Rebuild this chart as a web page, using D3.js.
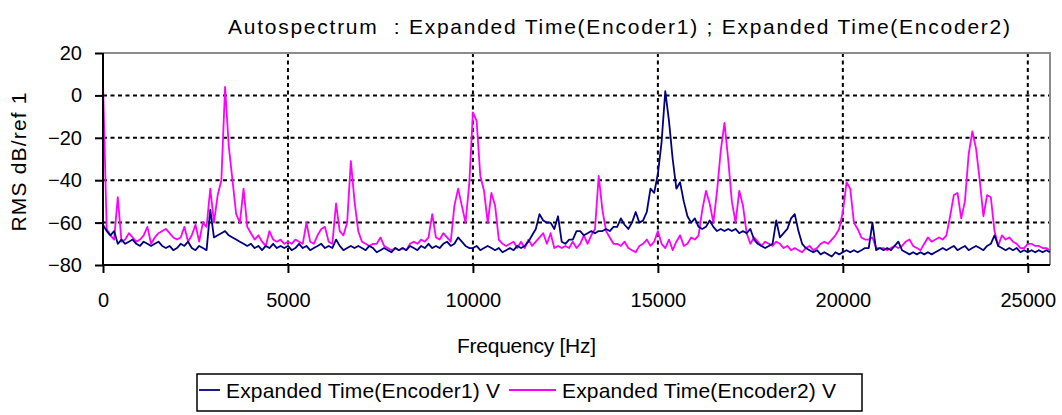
<!DOCTYPE html>
<html>
<head>
<meta charset="utf-8">
<script src="https://cdn.jsdelivr.net/npm/d3@7"></script>
<style>
  html, body { margin: 0; padding: 0; background: #fff; }
  svg { display: block; }
  text { font-family: "Liberation Sans", Arial, sans-serif; fill: #000; }
</style>
</head>
<body>
<svg id="chart" width="1062" height="415"></svg>
<script>
// Spectrum bins: 100 Hz resolution, 0 .. 25600 Hz
const binWidth = 100;

// Autospectrum, Expanded Time(Encoder1), dB
const encoder1 = [
  -61, -64, -66, -64, -70, -68, -70, -69, -68, -70,
  -71, -69, -70, -71, -70, -69, -71, -72, -71, -73,
  -72, -70, -71, -69, -72, -73, -71, -72, -73, -54,
  -67, -66, -65, -64, -66, -67, -68, -69, -70, -71,
  -70, -72, -71, -73, -71, -72, -70, -72, -71, -72,
  -71, -73, -72, -70, -72, -71, -73, -72, -71, -70,
  -72, -71, -72, -68, -71, -73, -72, -71, -72, -71,
  -72, -73, -71, -72, -74, -73, -72, -73, -74, -72,
  -73, -72, -73, -71, -72, -73, -71, -72, -70, -72,
  -71, -72, -70, -69, -71, -70, -67, -69, -71, -72,
  -72, -71, -73, -72, -71, -72, -73, -72, -74, -73,
  -72, -73, -71, -72, -71, -69, -66, -63, -56, -59,
  -60, -60, -63, -57, -69, -70, -68, -68, -64, -64,
  -66, -65, -64, -65, -64, -64, -63, -64, -62, -62,
  -58, -61, -63, -60, -55, -60, -59, -55, -44, -46,
  -37, -22,   2, -12, -30, -44, -41, -50, -57, -60,
  -58, -62, -63, -62, -59, -62, -64, -63, -64, -63,
  -64, -63, -65, -64, -65, -63, -68, -70, -71, -72,
  -71, -70, -59, -67, -65, -63, -58, -56, -64, -70,
  -72, -73, -74, -73, -75, -74, -75, -76, -74, -75,
  -74, -73, -74, -73, -74, -73, -72, -72, -60, -73,
  -72, -73, -72, -73, -71, -69, -73, -74, -75, -74,
  -75, -74, -75, -74, -75, -74, -73, -72, -73, -72,
  -71, -73, -72, -71, -73, -72, -71, -72, -73, -71,
  -70, -66, -71, -72, -73, -72, -73, -72, -74, -73,
  -74, -73, -74, -73, -74, -73, -74
];

// Autospectrum, Expanded Time(Encoder2), dB
const encoder2 = [
    6, -63, -66, -68, -48, -69, -68, -65, -67, -69,
  -68, -66, -62, -70, -67, -65, -64, -63, -65, -67,
  -68, -67, -62, -69, -66, -61, -69, -60, -62, -44,
  -60, -47, -40,   4, -24, -40, -56, -60, -44, -62,
  -65, -68, -66, -69, -71, -64, -68, -69, -68, -70,
  -69, -70, -68, -69, -70, -60, -69, -70, -66, -63,
  -62, -69, -70, -51, -64, -66, -60, -31, -50, -64,
  -69, -70, -71, -70, -70, -67, -71, -72, -73, -72,
  -73, -72, -73, -70, -69, -70, -68, -69, -67, -56,
  -67, -68, -65, -67, -69, -52, -44, -52, -60, -42,
   -8, -12, -38, -45, -60, -46, -52, -68, -70, -71,
  -70, -69, -72, -69, -72, -68, -71, -69, -67, -65,
  -70, -65, -72, -71, -72, -71, -72, -69, -72, -70,
  -66, -70, -66, -63, -38, -54, -64, -67, -70, -70,
  -71, -69, -72, -73, -74, -71, -70, -68, -71, -69,
  -64, -70, -72, -68, -73, -69, -66, -71, -70, -67,
  -68, -66, -54, -45, -51, -60, -45, -26, -13, -30,
  -50, -60, -45, -52, -65, -70, -67, -69, -71, -69,
  -70, -71, -69, -70, -72, -71, -73, -72, -73, -74,
  -72, -71, -73, -72, -70, -69, -70, -68, -66, -63,
  -55, -41, -44, -60, -63, -67, -68, -68, -67, -72,
  -72, -72, -73, -72, -71, -72, -71, -69, -68, -71,
  -72, -73, -70, -67, -69, -68, -67, -68, -66, -57,
  -47, -46, -58, -50, -28, -17, -25, -40, -57, -47,
  -48, -64, -71, -66, -68, -67, -69, -70, -72, -72,
  -70, -70, -71, -71, -72, -72, -73
];

const xTicks = [0, 5000, 10000, 15000, 20000, 25000];
const yTicks = [20, 0, -20, -40, -60, -80];

const seriesNames = ["Expanded Time(Encoder1) V", "Expanded Time(Encoder2) V"];
const seriesColors = ["#000080", "#FF00FF"];
const titleText = "Autospectrum  : Expanded Time(Encoder1) ; Expanded Time(Encoder2)";
const xTitle = "Frequency [Hz]";
const yTitle = "RMS dB/ref 1";

const svg = d3.select("#chart");
const plotLeft = 103, plotRight = 1050, plotTop = 53, plotBottom = 265;

const x = d3.scaleLinear().domain([0, 25600]).range([plotLeft, plotRight]);
const y = d3.scaleLinear().domain([-80, 20]).range([plotBottom, plotTop]);

const toPoints = vals => vals.map((v, i) => [i * binWidth, v]);

// dashed grid
const grid = svg.append("g");
grid.selectAll("line.h").data(yTicks.filter(t => t > -80 && t < 20)).join("line")
  .attr("x1", plotLeft).attr("x2", plotRight)
  .attr("y1", d => y(d)).attr("y2", d => y(d))
  .attr("stroke", "#000").attr("stroke-width", 2).attr("stroke-dasharray", "4,3.5");
grid.selectAll("line.v").data(xTicks.filter(t => t > 0)).join("line")
  .attr("x1", d => x(d)).attr("x2", d => x(d))
  .attr("y1", plotTop).attr("y2", plotBottom)
  .attr("stroke", "#000").attr("stroke-width", 2).attr("stroke-dasharray", "4,3.5");

// plot frame: grey top/right edges
svg.append("path")
  .attr("d", `M${plotLeft},${plotTop}H${plotRight}V${plotBottom}`)
  .attr("fill", "none").attr("stroke", "#8c8c8c").attr("stroke-width", 2);

// traces
const line = d3.line().x(d => x(d[0])).y(d => y(d[1]));
const plot = svg.append("g");
plot.append("path").datum(toPoints(encoder2))
  .attr("d", line).attr("fill", "none")
  .attr("stroke", seriesColors[1]).attr("stroke-width", 1.8).attr("stroke-linejoin", "round");
plot.append("path").datum(toPoints(encoder1))
  .attr("d", line).attr("fill", "none")
  .attr("stroke", seriesColors[0]).attr("stroke-width", 1.8).attr("stroke-linejoin", "round");

// axes
const xAxis = svg.append("g").attr("transform", `translate(0,${plotBottom})`)
  .call(d3.axisBottom(x).tickValues(xTicks).tickSize(8).tickPadding(20).tickFormat(d3.format("d")));
const yAxis = svg.append("g").attr("transform", `translate(${plotLeft},0)`)
  .call(d3.axisLeft(y).tickValues(yTicks).tickSize(8).tickPadding(13).tickFormat(d3.format("d")));
[xAxis, yAxis].forEach(g => {
  g.select(".domain").attr("stroke", "#000").attr("stroke-width", 2);
  g.selectAll(".tick line").attr("stroke", "#000").attr("stroke-width", 2);
  g.selectAll(".tick text").attr("font-size", 20).attr("font-family", "Liberation Sans, Arial, sans-serif").attr("fill", "#000");
});
xAxis.select(".domain").attr("d", `M${plotLeft},0H${plotRight}`);
yAxis.select(".domain").attr("d", `M0,${plotTop}V${plotBottom}`);

// titles
svg.append("text").attr("x", 228).attr("y", 34)
  .attr("font-size", 21).attr("textLength", 782).attr("lengthAdjust", "spacing")
  .attr("xml:space", "preserve").style("white-space", "pre")
  .text(titleText);
svg.append("text").attr("x", 457).attr("y", 353)
  .attr("font-size", 21).attr("textLength", 139).attr("lengthAdjust", "spacing")
  .text(xTitle);
svg.append("text").attr("transform", "translate(26,162) rotate(-90)")
  .attr("text-anchor", "middle").attr("font-size", 21)
  .attr("textLength", 139).attr("lengthAdjust", "spacing")
  .text(yTitle);

// legend
const lg = svg.append("g");
lg.append("rect").attr("x", 197).attr("y", 374).attr("width", 665).attr("height", 37)
  .attr("fill", "#fff").attr("stroke", "#000").attr("stroke-width", 1.5);
const legendItems = [
  { sx: 199, ex: 220, tx: 226 },
  { sx: 509, ex: 556, tx: 562 }
];
legendItems.forEach((it, i) => {
  lg.append("line").attr("x1", it.sx).attr("x2", it.ex).attr("y1", 390).attr("y2", 390)
    .attr("stroke", seriesColors[i]).attr("stroke-width", 1.8);
  lg.append("text").attr("x", it.tx).attr("y", 398)
    .attr("font-size", 21).attr("textLength", 274).attr("lengthAdjust", "spacing")
    .text(seriesNames[i]);
});
</script>
</body>
</html>
